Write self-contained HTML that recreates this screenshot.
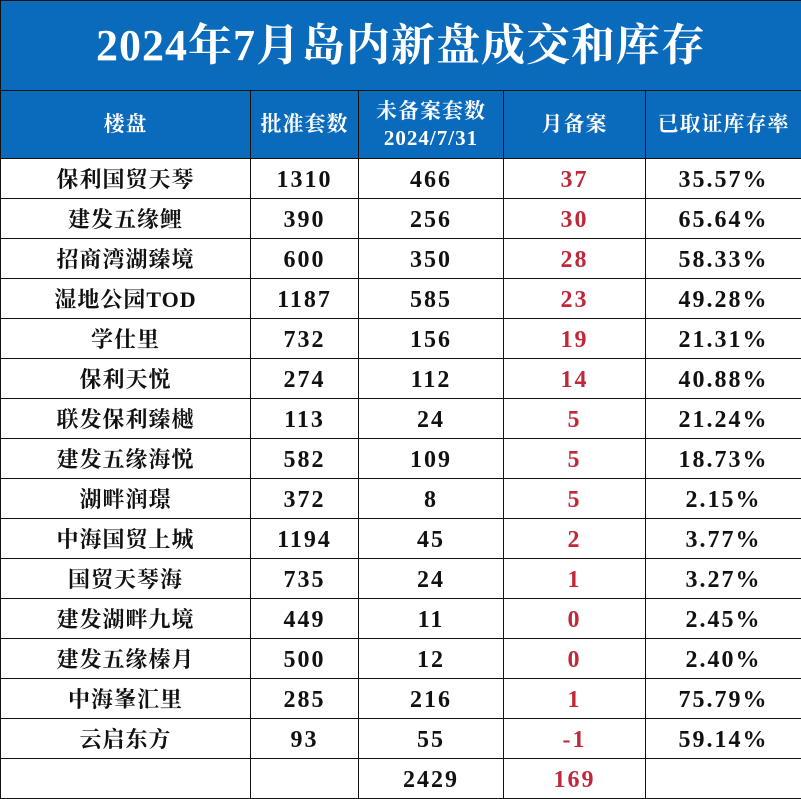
<!DOCTYPE html>
<html><head><meta charset="utf-8"><style>
body{margin:0;width:801px;height:799px;overflow:hidden;background:#fff;font-family:"Liberation Serif","Noto Serif CJK SC",serif;}
#t{position:absolute;left:0;top:0;width:801px;height:799px;border-collapse:collapse;table-layout:fixed}
td{border:1px solid #111;text-align:center;font-weight:bold;font-size:22px;color:#111;padding:2px 0 0 0;height:37px;line-height:24px;letter-spacing:1px;white-space:nowrap}
td.n{letter-spacing:2px;font-size:24px}
.title td{background:#0a6bbd;color:#fff;font-size:44px;height:89px;line-height:50px;letter-spacing:1px;padding:0}
.hd td{background:#0a6bbd;color:#fff;font-size:21px;height:67px;line-height:27px;letter-spacing:1px;padding:0}
.r{color:#c0283a}
</style></head><body>
<table id="t">
<colgroup><col style="width:250px"><col style="width:108px"><col style="width:145px"><col style="width:142px"><col style="width:156px"></colgroup>
<tr class="title"><td colspan="5">2024年7月岛内新盘成交和库存</td></tr>
<tr class="hd"><td>楼盘</td><td>批准套数</td><td>未备案套数<br>2024/7/31</td><td>月备案</td><td>已取证库存率</td></tr>
<tbody id="body"></tbody>
</table>
<script>
const projects=["保利国贸天琴","建发五缘鲤","招商湾湖臻境","湿地公园TOD","学仕里","保利天悦","联发保利臻樾","建发五缘海悦","湖畔润璟","中海国贸上城","国贸天琴海","建发湖畔九境","建发五缘榛月","中海峯汇里","云启东方"];
const approved=[1310,390,600,1187,732,274,113,582,372,1194,735,449,500,285,93];
const unfiled=[466,256,350,585,156,112,24,109,8,45,24,11,12,216,55];
const monthly=[37,30,28,23,19,14,5,5,5,2,1,0,0,1,-1];
const rates=["35.57%","65.64%","58.33%","49.28%","21.31%","40.88%","21.24%","18.73%","2.15%","3.77%","3.27%","2.45%","2.40%","75.79%","59.14%"];
const totals=["","","2429","169",""];
const tb=document.getElementById('body');
function row(vals){const tr=document.createElement('tr');


vals.forEach((v,i)=>{const td=document.createElement('td');td.textContent=v;let c=i>0?'n':'';if(i==3)c+=' r';td.className=c;


tr.appendChild(td);});tb.appendChild(tr);}
projects.forEach((p,i)=>row([p,approved[i],unfiled[i],monthly[i],rates[i]]));
row(totals);
</script>
</body></html>
